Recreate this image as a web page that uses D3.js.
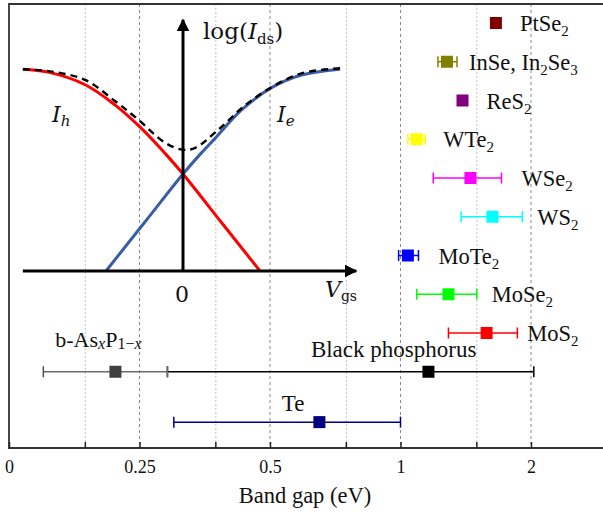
<!DOCTYPE html>
<html>
<head>
<meta charset="utf-8">
<script src="https://cdn.jsdelivr.net/npm/d3@7"></script>
<style>
  body { margin: 0; background: #fff; }
  svg text { font-family: "Liberation Serif", "Times New Roman", serif; fill: #111; }
  .inset text { font-family: "DejaVu Serif", serif; }
</style>
</head>
<body>
<svg id="chart" width="603" height="516"></svg>
<script>
// Band gap ranges (eV), top to bottom
const materials = ["PtSe_2", "InSe, In_2Se_3", "ReS_2", "WTe_2", "WSe_2", "WS_2", "MoTe_2", "MoSe_2", "MoS_2",
                   "b-AsxP1-x", "Black phosphorus", "Te"];
const rows     = [0, 1, 2, 3, 4, 5, 6, 7, 8, 9, 9, 10.3];
const gapMid   = [1.66, 1.28, 1.39, 1.09, 1.45, 1.63, 1.04, 1.29, 1.58, 0.22, 1.16, 0.65];
const gapLow   = [null, 1.22, null, 1.04, 1.19, 1.38, 0.99, 1.09, 1.29, 0.15, 0.29, 0.30];
const gapHigh  = [null, 1.35, null, 1.14, 1.71, 1.91, 1.10, 1.50, 1.86, 0.29, 2.03, 1.00];
const palette  = ["#800000", "#808000", "#800080", "#ffff00", "#ff00ff", "#00ffff", "#0000ff", "#00ff00", "#ff0000",
                  "#404040", "#000000", "#000080"];

// x axis ticks (the axis is log2, its left end is labelled 0)
const majorTicks = [0.125, 0.25, 0.5, 1, 2];
const tickLabels = ["0", "0.25", "0.5", "1", "2"];
const minorTicks = [0.1875, 0.375, 0.75, 1.5];

// inset schematic: log(Ids) vs Vgs
const holeV   = [-2.08, -1.75, -1.27, -0.88, -0.54, -0.23, 0, 0.5, 1.0];
const holeLog = [2.08, 2.05, 1.92, 1.71, 1.47, 1.21, 1.0, 0.5, 0];
const elecV   = [-1, -0.5, 0, 0.23, 0.42, 0.76, 1.15, 1.54, 2.04];
const elecLog = [0, 0.5, 1, 1.21, 1.37, 1.66, 1.89, 2.02, 2.08];
const sumV    = [-2.08, -1.75, -1.27, -0.88, -0.58, -0.23, 0, 0.16, 0.45, 0.81, 1.16, 1.55, 2.04];
const sumLog  = [2.08, 2.06, 1.97, 1.75, 1.56, 1.32, 1.25, 1.27, 1.45, 1.71, 1.90, 2.04, 2.09];

const W = 603;
const frameLeft = 9, frameTop = 4, frameBottom = 448;
const serif = "'Liberation Serif', 'Times New Roman', serif";
const svg = d3.select("#chart");

const x = d3.scaleLog().base(2).domain([0.125, 2]).range([frameLeft, 531]);
const y = d3.scaleLinear().domain([0, 10]).range([23, 410.5]);

// grid lines
svg.append("g").selectAll("line")
  .data(minorTicks).enter().append("line")
  .attr("x1", d => x(d)).attr("x2", d => x(d))
  .attr("y1", frameTop).attr("y2", frameBottom)
  .attr("stroke", "#c4c4c4").attr("stroke-width", 1).attr("stroke-dasharray", "2,2");
svg.append("g").selectAll("line")
  .data(majorTicks.slice(1)).enter().append("line")
  .attr("x1", d => x(d)).attr("x2", d => x(d))
  .attr("y1", frameTop).attr("y2", frameBottom)
  .attr("stroke", "#8a8a8a").attr("stroke-width", 1).attr("stroke-dasharray", "3,3");

// frame
svg.append("path")
  .attr("d", `M${W},${frameTop}H${frameLeft}V${frameBottom}H${W}`)
  .attr("fill", "none").attr("stroke", "#333").attr("stroke-width", 1.8);

// bottom axis
const xAxis = svg.append("g")
  .attr("transform", `translate(0,${frameBottom})`)
  .call(d3.axisBottom(x).tickValues(majorTicks)
    .tickFormat((d, i) => tickLabels[i])
    .tickSizeInner(-6).tickSizeOuter(0).tickPadding(12));
xAxis.attr("font-family", serif);
xAxis.select(".domain").remove();
xAxis.selectAll("line").attr("stroke", "#222").attr("stroke-width", 1.5);
xAxis.selectAll("text").attr("font-size", 18).attr("fill", "#222")
  .attr("font-family", serif);
svg.append("g").selectAll("line")
  .data(minorTicks).enter().append("line")
  .attr("x1", d => x(d)).attr("x2", d => x(d))
  .attr("y1", frameBottom).attr("y2", frameBottom - 6)
  .attr("stroke", "#222").attr("stroke-width", 1.5);

svg.append("text")
  .attr("x", 305).attr("y", 503)
  .attr("text-anchor", "middle").attr("font-size", 22.5)
  .attr("font-family", serif)
  .text("Band gap (eV)");

// error bars and markers
const items = materials.map((name, i) => ({
  name, row: rows[i], mid: gapMid[i], lo: gapLow[i], hi: gapHigh[i], color: palette[i]
}));
const barColor = d => d.name === "b-AsxP1-x" ? "#6a6a6a" : d.color;

const g = svg.append("g");
const withBars = items.filter(d => d.lo !== null);
g.selectAll(".err").data(withBars).enter().append("line")
  .attr("x1", d => x(d.lo)).attr("x2", d => x(d.hi))
  .attr("y1", d => y(d.row)).attr("y2", d => y(d.row))
  .attr("stroke", barColor).attr("stroke-width", 1.5);
["lo", "hi"].forEach(k => {
  g.selectAll(".cap-" + k).data(withBars).enter().append("line")
    .attr("x1", d => x(d[k])).attr("x2", d => x(d[k]))
    .attr("y1", d => y(d.row) - 5.5).attr("y2", d => y(d.row) + 5.5)
    .attr("stroke", d => d.name === "b-AsxP1-x" && k === "lo" ? "#505050" : barColor(d))
    .attr("stroke-width", 1.5);
});
const sq = 12;
g.selectAll(".mark").data(items).enter().append("rect")
  .attr("x", d => x(d.mid) - sq / 2).attr("y", d => y(d.row) - sq / 2)
  .attr("width", sq).attr("height", sq)
  .attr("fill", d => d.color);

// labels with subscripts
function addLabel(sel, str) {
  const parts = str.split(/_(\d+)/);
  parts.forEach((p, i) => {
    if (!p) return;
    const t = sel.append("tspan").text(p);
    if (i % 2 === 1) t.attr("font-size", 15).attr("dy", 5);
    else if (i > 0) t.attr("dy", -5);
  });
}

// gap between bar end and label, per row (px)
const labelGap = [18, 12, 18, 18, 20, 15, 20, 15, 10];
const rightItems = items.filter(d => d.row <= 8);
rightItems.forEach((d, i) => {
  const end = d.hi !== null ? x(d.hi) : x(d.mid) + sq / 2;
  const t = svg.append("text")
    .attr("x", end + labelGap[i]).attr("y", y(d.row) + 8)
    .attr("font-size", 22.5).attr("font-family", serif);
  addLabel(t, d.name);
});

// labels above the lower bars: [dx from bar centre, dy from row]
const lowerLabelPos = { "b-AsxP1-x": [-7, -25], "Black phosphorus": [43, -15], "Te": [6, -11] };
items.filter(d => d.row > 8).forEach(d => {
  const [dx, dy] = lowerLabelPos[d.name];
  const cx = (x(d.lo) + x(d.hi)) / 2 + dx;
  const t = svg.append("text")
    .attr("x", cx).attr("y", y(d.row) + dy)
    .attr("text-anchor", "middle").attr("font-size", 23)
    .attr("font-family", serif);
  if (d.name === "b-AsxP1-x") {
    t.attr("font-size", 22);
    t.append("tspan").text("b-As");
    t.append("tspan").text("x").attr("font-size", 16).attr("font-style", "italic").attr("dy", 2);
    t.append("tspan").text("P").attr("dy", -2);
    t.append("tspan").text("1\u2212").attr("font-size", 16).attr("dy", 2);
    t.append("tspan").text("x").attr("font-size", 16).attr("font-style", "italic");
  } else {
    t.text(d.name);
  }
});

// ---- inset ----
const inset = svg.append("g").attr("class", "inset");
const xi = d3.scaleLinear().domain([0, 1]).range([183, 260]);
const yi = d3.scaleLinear().domain([0, 1]).range([271, 174]);

const defs = svg.append("defs");
defs.append("marker")
  .attr("id", "arrow").attr("viewBox", "0 0 10 10")
  .attr("refX", 9).attr("refY", 5)
  .attr("markerWidth", 4.2).attr("markerHeight", 4.2)
  .attr("markerUnits", "strokeWidth")
  .attr("orient", "auto")
  .append("path").attr("d", "M0,0L10,5L0,10z").attr("fill", "#000");

const lineGen = d3.line().x(d => xi(d[0])).y(d => yi(d[1])).curve(d3.curveCatmullRom.alpha(0.5));

inset.append("path")
  .attr("d", lineGen(holeV.map((v, i) => [v, holeLog[i]])))
  .attr("fill", "none").attr("stroke", "#ff0000").attr("stroke-width", 3);
inset.append("path")
  .attr("d", lineGen(elecV.map((v, i) => [v, elecLog[i]])))
  .attr("fill", "none").attr("stroke", "#3a5da5").attr("stroke-width", 3);
inset.append("path")
  .attr("d", lineGen(sumV.map((v, i) => [v, sumLog[i]])))
  .attr("fill", "none").attr("stroke", "#000").attr("stroke-width", 2.4)
  .attr("stroke-dasharray", "7,5");

// inset axes
inset.append("line")
  .attr("x1", xi(0)).attr("x2", xi(0))
  .attr("y1", yi(0)).attr("y2", yi(2.59))
  .attr("stroke", "#000").attr("stroke-width", 3)
  .attr("marker-end", "url(#arrow)");
inset.append("line")
  .attr("x1", xi(-2.08)).attr("x2", xi(2.25))
  .attr("y1", yi(0)).attr("y2", yi(0))
  .attr("stroke", "#000").attr("stroke-width", 3)
  .attr("marker-end", "url(#arrow)");

// inset text
const logT = inset.append("text").attr("x", 203).attr("y", 39).attr("font-size", 23);
logT.append("tspan").text("log(");
logT.append("tspan").text("I").attr("font-style", "italic");
logT.append("tspan").text("ds").attr("font-size", 15).attr("dy", 5);
logT.append("tspan").text(")").attr("dy", -5);

const ih = inset.append("text").attr("x", 52).attr("y", 122).attr("font-size", 22).attr("font-style", "italic");
ih.append("tspan").text("I");
ih.append("tspan").text("h").attr("font-size", 15).attr("dy", 4);

const ie = inset.append("text").attr("x", 277).attr("y", 122).attr("font-size", 22).attr("font-style", "italic");
ie.append("tspan").text("I");
ie.append("tspan").text("e").attr("font-size", 15).attr("dy", 4);

inset.append("text").attr("x", xi(0) - 1).attr("y", 302)
  .attr("text-anchor", "middle").attr("font-size", 22).text("0");

const vg = inset.append("text").attr("x", 325).attr("y", 297).attr("font-size", 22);
vg.append("tspan").text("V").attr("font-style", "italic");
vg.append("tspan").text("gs").attr("font-size", 14).attr("dy", 4);
</script>
</body>
</html>
